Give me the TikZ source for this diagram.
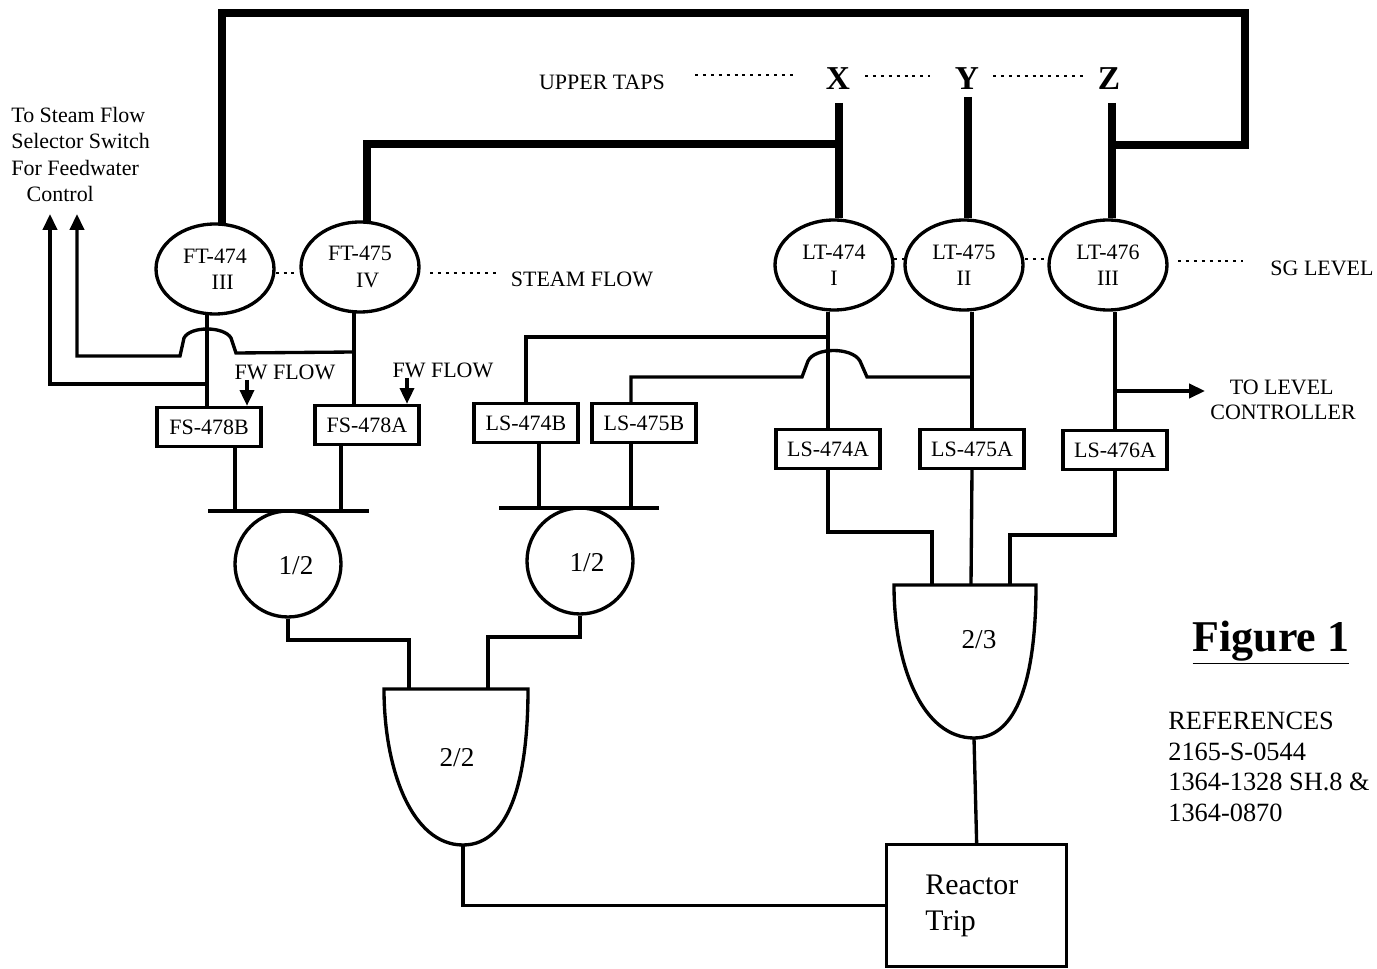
\documentclass[tikz,border=0pt]{standalone}
\usepackage{fontspec}
\setmainfont{Liberation Serif}
\usetikzlibrary{arrows.meta,shapes.geometric}

\begin{document}
\begin{tikzpicture}[x=0.02cm,y=-0.02cm,>={Stealth[inset=0pt,length=9pt,width=8pt]},every node/.style={font=\fontsize{12.5}{15}\selectfont,inner sep=0pt},wire/.style={line width=1.9pt},tube/.style={line width=4.4pt,line join=miter},dotline/.style={line width=1.7pt,dash pattern=on 1.7pt off 2.8pt},trans/.style={ellipse,draw,line width=1.9pt,minimum width=2.36cm,minimum height=1.8cm,align=center},sw/.style={rectangle,draw,line width=1.9pt,minimum width=2.08cm,minimum height=0.78cm},vote/.style={circle,draw,line width=1.9pt,minimum size=2.12cm},tag/.style={font=\fontsize{12.5}{15}\selectfont},big/.style={font=\fontsize{19}{22}\selectfont\bfseries},ratio/.style={font=\fontsize{15.5}{18}\selectfont}]
\useasboundingbox (0,0) rectangle (1377,969);
% transmitters
\node[trans] (FT474) at (215,269) {FT-474\\\hspace*{.7em}III};
\node[trans] (FT475) at (360,267) {FT-475\\\hspace*{.7em}IV};
\node[trans] (LT474) at (834,265) {LT-474\\I};
\node[trans] (LT475) at (964,265) {LT-475\\II};
\node[trans] (LT476) at (1108,265) {LT-476\\III};
% bistables
\node[sw] (FS478B) at (209,427) {FS-478B};
\node[sw] (FS478A) at (367,425) {FS-478A};
\node[sw] (LS474B) at (526,423) {LS-474B};
\node[sw] (LS475B) at (644,423) {LS-475B};
\node[sw] (LS474A) at (828,449) {LS-474A};
\node[sw] (LS475A) at (972,449) {LS-475A};
\node[sw] (LS476A) at (1115,450) {LS-476A};
% voting circles
\node[vote] (voteA) at (288,564) {};
\node[vote] (voteB) at (580,561) {};
\node[ratio] (voteAt) at (296,566) {1/2};
\node[ratio] (voteBt) at (587,563) {1/2};
% labels
\node[tag,anchor=north west,align=left] (toSteam) at (11,107) {To Steam Flow\\Selector Switch\\For Feedwater\\\hspace*{.7em}Control};
\node[tag] (taps) at (602,82) {UPPER TAPS};
\node[big] (X) at (838,79) {X};
\node[big] (Y) at (967,79) {Y};
\node[big] (Z) at (1109,79) {Z};
\node[tag] (steam) at (582,279) {STEAM FLOW};
\node[tag] (level) at (1322,268) {SG LEVEL};
\node[tag] (fwB) at (285,372) {FW FLOW};
\node[tag] (fwA) at (443,370) {FW FLOW};
\node[tag,anchor=east] (toLevel) at (1334,387) {TO LEVEL};
\node[tag,anchor=east] (ctrl) at (1356,412) {CONTROLLER};
\node[font=\fontsize{25}{30}\selectfont\bfseries] (fig) at (1271,643) {\underline{Figure 1}};
\node[font=\fontsize{15}{17.4}\selectfont,anchor=north west,align=left] (refs) at (1168,712) {REFERENCES\\2165-S-0544\\1364-1328 SH.8 \&\\1364-0870};
% thick impulse lines
\coordinate (xTop) at (839,103);
\coordinate (zTop) at (1112,103);
\coordinate (yTop) at (968,97);
\draw[tube] (xTop) -- (xTop |- LT474.north);
\draw[tube] (yTop) -- (yTop |- LT475.north);
\draw[tube] (zTop) -- (zTop |- LT476.north);
\coordinate (xJoin) at (839,144);
\coordinate (ftB) at (367,222);
\draw[tube] (xJoin) -- (ftB |- xJoin) -- (ftB);
\coordinate (zJoin) at (1112,145);
\coordinate (ftA) at (222,225);
\draw[tube] (zJoin) -- (1245,145) -- (1245,13) -- (222,13) -- (ftA);
% dots
\draw[dotline] (695,75) -- (795,75);
\draw[dotline] (865,76) -- (930,76);
\draw[dotline] (993,76) -- (1085,76);
\draw[dotline] (FT474.east |- 0,273) -- (FT475.west |- 0,273);
\draw[dotline] (430,273) -- (497,273);
\draw[dotline] (894,259) -- (905,259);
\draw[dotline] (1025,259) -- (1048,259);
\draw[dotline] (1178,261) -- (1243,261);
% flow signals
\coordinate (ftAb) at (207,313);
\coordinate (ftBb) at (354,312);
\coordinate (jB) at (354,352);
\coordinate (jA) at (207,384);
\coordinate (arrB) at (77,214);
\coordinate (arrA) at (50,214);
\draw[wire] (ftAb) -- (ftAb |- FS478B.north);
\draw[wire] (ftBb) -- (ftBb |- FS478A.north);
\draw[wire,->] (jB) -- (236,353) -- (231,338) .. controls (224,326) and (190,326) .. (184,338) -- (180,356) -- (77,356) -- (arrB);
\draw[wire,->] (jA) -- (50,384) -- (arrA);
\coordinate (fwBs) at (247,380);
\coordinate (fwAs) at (407,378);
\draw[wire,->] (fwBs) -- (fwBs |- FS478B.north);
\draw[wire,->] (fwAs) -- (fwAs |- FS478A.north);
% level signals
\coordinate (jC) at (827,337);
\coordinate (jD) at (971,377);
\coordinate (jE) at (1114,391);
\draw[wire] (LS474A.north |- LT474.south) -- (LS474A.north);
\draw[wire] (LS475A.north |- LT475.south) -- (LS475A.north);
\draw[wire] (LS476A.north |- LT476.south) -- (LS476A.north);
\draw[wire] (jC) -- (526,337) -- (LS474B.north);
\draw[wire] (jD) -- (867,377) -- (860,361) .. controls (852,347) and (815,347) .. (808,361) -- (802,377) -- (631,377) -- (631,403);
\draw[wire,->] (jE) -- (1205,391);
% busses
\coordinate (busAl) at (208,511);
\coordinate (busAr) at (369,511);
\coordinate (busAa) at (235,511);
\coordinate (busAb) at (341,511);
\coordinate (busBl) at (499,508);
\coordinate (busBr) at (659,508);
\coordinate (busBa) at (539,508);
\coordinate (busBb) at (631,508);
\draw[wire] (busAl) -- (busAr);
\draw[wire] (busBl) -- (busBr);
\draw[wire] (FS478B.south -| busAa) -- (busAa);
\draw[wire] (FS478A.south -| busAb) -- (busAb);
\draw[wire] (LS474B.south -| busBa) -- (busBa);
\draw[wire] (LS475B.south -| busBb) -- (busBb);
% gates
\coordinate (gateAl) at (384,689);
\coordinate (gateAr) at (528,689);
\coordinate (gateAo) at (463,845);
\coordinate (gateAa) at (409,689);
\coordinate (gateAb) at (488,689);
\draw[wire] (gateAo) .. controls (412,845) and (384,770) .. (gateAl) -- (gateAr) .. controls (528,770) and (513,845) .. (gateAo);
\node[ratio] (gateAt) at (457,758) {2/2};
\coordinate (gateBl) at (894,585);
\coordinate (gateBr) at (1036,585);
\coordinate (gateBo) at (974,738);
\coordinate (gateBa) at (932,585);
\coordinate (gateBb) at (971,585);
\coordinate (gateBc) at (1010,585);
\draw[wire] (gateBo) .. controls (922,738) and (894,665) .. (gateBl) -- (gateBr) .. controls (1036,665) and (1022,738) .. (gateBo);
\node[ratio] (gateBt) at (979,640) {2/3};
\draw[wire] (voteA.south) -- (voteA.south |- 0,640) -- (gateAa |- 0,640) -- (gateAa);
\draw[wire] (voteB.south) -- (voteB.south |- 0,637) -- (gateAb |- 0,637) -- (gateAb);
\draw[wire] (LS474A.south) -- (LS474A.south |- 0,532) -- (gateBa |- 0,532) -- (gateBa);
\draw[wire] (LS475A.south) -- (gateBb);
\draw[wire] (LS476A.south) -- (LS476A.south |- 0,535) -- (gateBc |- 0,535) -- (gateBc);
% trip box
\node[rectangle,draw,line width=1.9pt,minimum width=3.6cm,minimum height=2.44cm,anchor=north west] (trip) at (885,843) {};
\node[font=\fontsize{17}{20}\selectfont,anchor=north west,align=left] (tripT) at (925,875) {Reactor\\Trip};
\draw[wire] (gateAo) -- (gateAo |- trip.west) -- (trip.west);
\draw[wire] (gateBo) -- (trip.north);
\end{tikzpicture}
\end{document}
